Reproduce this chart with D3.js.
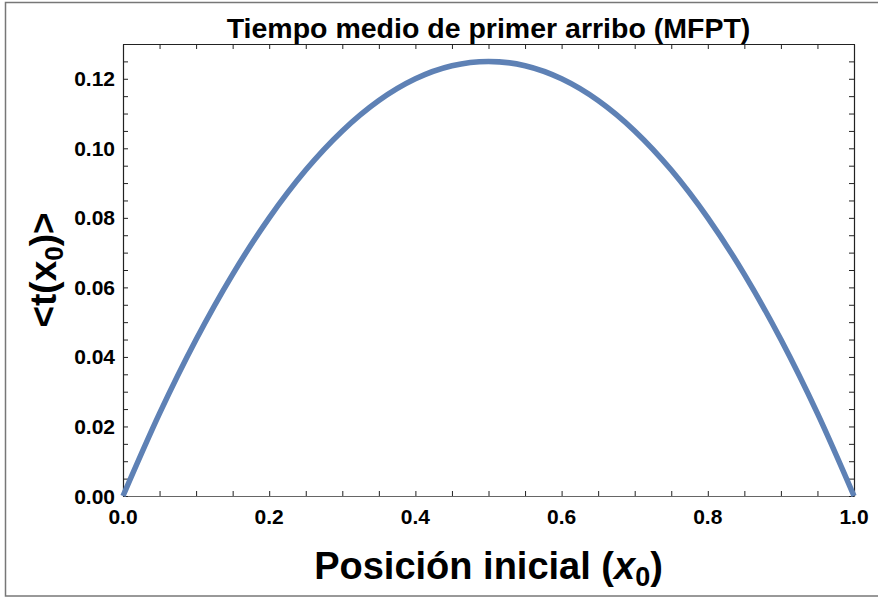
<!DOCTYPE html>
<html><head><meta charset="utf-8">
<script src="https://cdn.jsdelivr.net/npm/d3@7"></script>
<style>
html,body{margin:0;padding:0;background:#fff;}
svg{display:block;font-family:"Liberation Sans",Arial,Helvetica,sans-serif;}
</style></head><body>
<svg id="chart" width="878" height="597"></svg>
<script>
// Readings from the reference curve
const xValues = [0, 0.05, 0.1, 0.15, 0.2, 0.25, 0.3, 0.35, 0.4, 0.45, 0.5,
                 0.55, 0.6, 0.65, 0.7, 0.75, 0.8, 0.85, 0.9, 0.95, 1.0];
const tValues = [0, 0.02375, 0.045, 0.06375, 0.08, 0.09375, 0.105, 0.11375, 0.12, 0.12375, 0.125,
                 0.12375, 0.12, 0.11375, 0.105, 0.09375, 0.08, 0.06375, 0.045, 0.02375, 0];
const xTickLabels = [0, 0.2, 0.4, 0.6, 0.8, 1.0];
const yTickLabels = [0, 0.02, 0.04, 0.06, 0.08, 0.10, 0.12];
const titleText = "Tiempo medio de primer arribo (MFPT)";

const svg = d3.select("#chart");
const L = 123, R = 854, T = 44, B = 496;
const xS = d3.scaleLinear().domain([0, 1]).range([L, R]);
const yS = d3.scaleLinear().domain([0, 0.13]).range([B, T]);

// outer frame
svg.append("rect").attr("x", 5.5).attr("y", 2.5).attr("width", 900).attr("height", 593.5)
  .attr("fill", "none").attr("stroke", "#777").attr("stroke-width", 1.5);

const minorX = d3.range(0, 21).map(i => i * 0.05);
const minorY = d3.range(0, 27).map(i => i * 0.005);
const tl = 5;

function styleAxis(g, color) {
  g.select(".domain").attr("stroke", color).attr("stroke-width", 1.2);
  g.selectAll(".tick line").attr("stroke", "#222").attr("stroke-width", 1);
}

const axBottom = svg.append("g").attr("transform", `translate(0,${B})`)
  .call(d3.axisBottom(xS).tickValues(minorX).tickSize(-tl).tickSizeOuter(0).tickFormat(""));
styleAxis(axBottom, "#666");
const axTop = svg.append("g").attr("transform", `translate(0,${T})`)
  .call(d3.axisTop(xS).tickValues(minorX).tickSize(-tl).tickSizeOuter(0).tickFormat(""));
styleAxis(axTop, "#222");
const axLeft = svg.append("g").attr("transform", `translate(${L},0)`)
  .call(d3.axisLeft(yS).tickValues(minorY).tickSize(-tl).tickSizeOuter(0).tickFormat(""));
styleAxis(axLeft, "#222");
const axRight = svg.append("g").attr("transform", `translate(${R},0)`)
  .call(d3.axisRight(yS).tickValues(minorY).tickSize(-tl).tickSizeOuter(0).tickFormat(""));
styleAxis(axRight, "#222");

// tick labels
svg.append("g").selectAll("text").data(xTickLabels).join("text")
  .attr("x", d => xS(d)).attr("y", B + 28)
  .attr("text-anchor", "middle").attr("font-size", 21).attr("font-weight", "bold")
  .text(d => d3.format(".1f")(d));
svg.append("g").selectAll("text").data(yTickLabels).join("text")
  .attr("x", L - 8).attr("y", d => yS(d) + 7.5)
  .attr("text-anchor", "end").attr("font-size", 21).attr("font-weight", "bold")
  .text(d => d3.format(".2f")(d));

// curve
const lineGen = d3.line().x((d, i) => xS(xValues[i])).y(d => yS(d)).curve(d3.curveMonotoneX);
svg.append("path").datum(tValues).attr("d", lineGen)
  .attr("fill", "none").attr("stroke", "#5E81B5").attr("stroke-width", 5.5)
  .attr("stroke-linejoin", "round");

// title
svg.append("text").attr("x", (L + R) / 2).attr("y", 38)
  .attr("text-anchor", "middle").attr("font-size", 28.5).attr("font-weight", "bold")
  .text(titleText);

// x label
const xl = svg.append("text").attr("x", (L + R) / 2).attr("y", 579)
  .attr("text-anchor", "middle").attr("font-size", 38).attr("font-weight", "bold");
xl.append("tspan").text("Posición inicial (");
xl.append("tspan").attr("font-style", "italic").text("x");
xl.append("tspan").attr("font-size", 27).attr("dy", 7).text("0");
xl.append("tspan").attr("dy", -7).text(")");

// y label
const yl = svg.append("text").attr("transform", `translate(56,${(T + B) / 2}) rotate(-90)`)
  .attr("text-anchor", "middle").attr("font-size", 37).attr("font-weight", "bold");
yl.append("tspan").text("<t(");
yl.append("tspan").text("x");
yl.append("tspan").attr("font-size", 26).attr("dy", 7).text("0");
yl.append("tspan").attr("dy", -7).text(")>");
</script>
</body></html>
